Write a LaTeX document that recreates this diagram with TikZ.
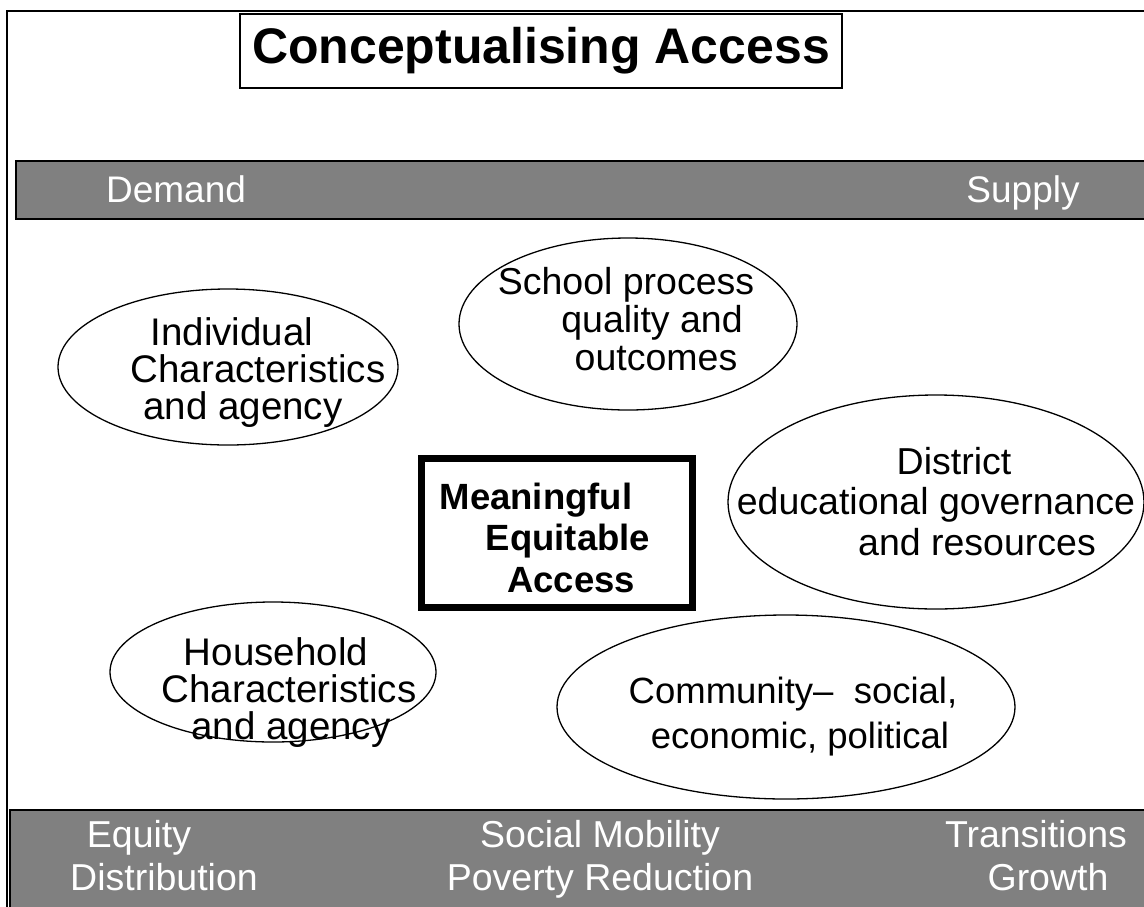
\documentclass[tikz,border=0pt]{standalone}
\usepackage{fontspec}
\setmainfont{Liberation Sans}
\begin{document}
\begin{tikzpicture}[x=1pt,y=-1pt,
  bar/.style={draw=black,line width=1.6pt,fill=barGray},
  oval/.style={draw=black,line width=1.3pt},
  txt/.style={inner sep=0pt,anchor=base,font=\fontsize{37.5}{38}\selectfont},
  wtxt/.style={txt,text=white}]
\definecolor{barGray}{HTML}{808080}
\useasboundingbox (0,0) rectangle (1144,906);
\clip (0,0) rectangle (1144,906);
\fill[white] (0,0) rectangle (1144,906);
% outer frame
\draw[line width=1.3pt] (7,11) rectangle (1160,930);
% title
\node[draw,line width=1.3pt,minimum width=602pt,minimum height=74pt,inner sep=0pt,
  font=\fontsize{50}{52}\selectfont\bfseries] (title) at (541,51) {Conceptualising Access};
% bars
\draw[bar] (16,161) rectangle (1160,219);
\draw[bar] (10,810) rectangle (1160,930);
\node[wtxt,font=\fontsize{37}{38}\selectfont] (demand) at (176,202) {Demand};
\node[wtxt,font=\fontsize{37}{38}\selectfont] (supply) at (1023,202) {Supply};
\node[wtxt] (eq1) at (139,847) {Equity};
\node[wtxt] (eq2) at (164,890) {Distribution};
\node[wtxt] (so1) at (600,847) {Social Mobility};
\node[wtxt] (so2) at (600,890) {Poverty Reduction};
\node[wtxt] (tr1) at (1036,847) {Transitions};
\node[wtxt] (tr2) at (1048,890) {Growth};
% ellipses
\draw[oval] (228,367) ellipse [x radius=170, y radius=78];
\draw[oval] (628,324) ellipse [x radius=169, y radius=86];
\draw[oval] (936,502) ellipse [x radius=208, y radius=107];
\draw[oval] (273,672) ellipse [x radius=163, y radius=70];
\draw[oval] (786,707) ellipse [x radius=229, y radius=92];
% individual
\begin{scope}[txt/.append style={font=\fontsize{38.5}{38}\selectfont}]
\node[txt] (i1) at (232,345) {Individual};
\node[txt] (i2) at (258,382) {Characteristics};
\node[txt] (i3) at (243,419) {and agency};
% household
\node[txt] (h1) at (276,665) {Household};
\node[txt] (h2) at (289,702) {Characteristics};
\node[txt] (h3) at (291,739) {and agency};
\end{scope}
% school
\node[txt] (s1) at (626,294) {School process};
\node[txt] (s2) at (652,332) {quality and};
\node[txt] (s3) at (656,370) {outcomes};
% district
\node[txt] (d1) at (954,474) {District};
\node[txt] (d2) at (936,514) {educational governance};
\node[txt] (d3) at (977,555) {and resources};
% community
\begin{scope}[txt/.append style={font=\fontsize{36.5}{38}\selectfont}]
\node[txt] (c1) at (793,703) {Community\textendash\ \ social,};
\node[txt] (c2) at (800,748) {economic, political};
\end{scope}
% centre box
\draw[line width=7pt] (421,458) rectangle (692,607);
\node[txt,font=\fontsize{36.5}{38}\selectfont\bfseries] (m1) at (536,509) {Meaningful};
\node[txt,font=\fontsize{36.5}{38}\selectfont\bfseries] (m2) at (568,550) {Equitable};
\node[txt,font=\fontsize{36.5}{38}\selectfont\bfseries] (m3) at (571,592) {Access};
\end{tikzpicture}
\end{document}
